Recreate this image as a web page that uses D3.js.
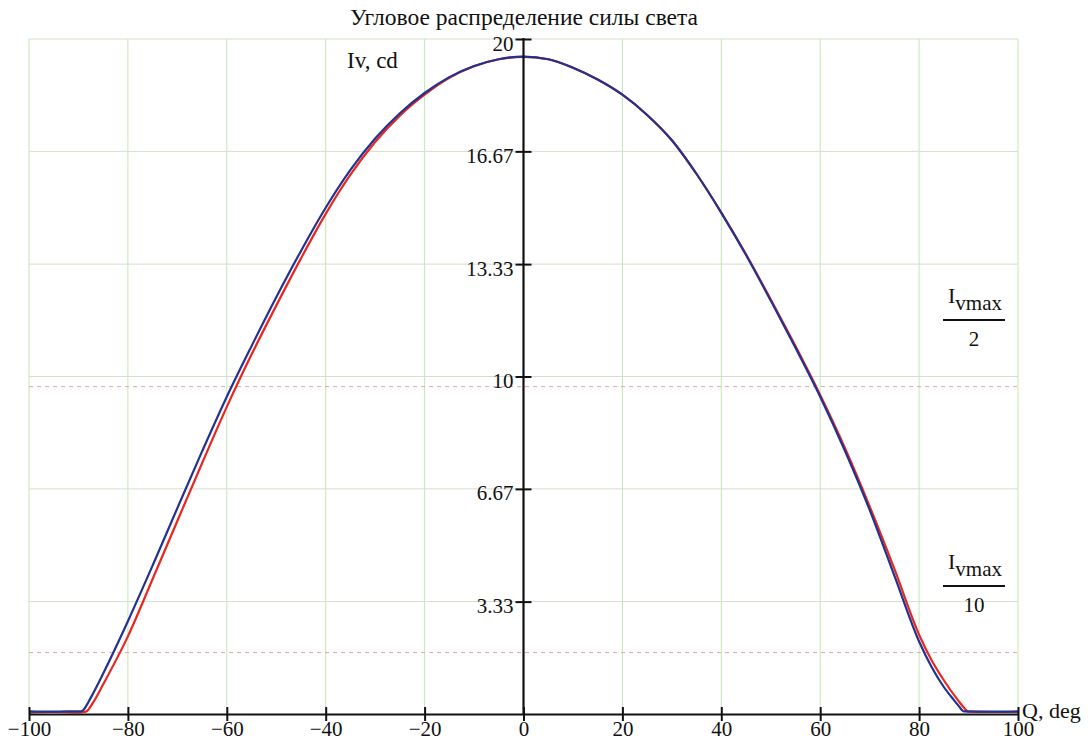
<!DOCTYPE html>
<html>
<head>
<meta charset="utf-8">
<script src="https://cdn.jsdelivr.net/npm/d3@7"></script>
<style>
  body { margin: 0; background: #fff; }
  svg text { font-family: "Liberation Serif", "Times New Roman", serif; fill: #111; }
</style>
</head>
<body>
<div id="chart"></div>
<script>
// angle, deg
var blueAngles = [-100, -95, -90, -89.5, -89, -88, -87, -85, -80, -75, -70, -65, -60, -55, -50, -45, -40, -35, -30, -25, -20, -15, -10, -5, 0,
                  5, 10, 15, 20, 25, 30, 35, 40, 45, 50, 55, 60, 65, 70, 75, 80, 82.5, 85, 87, 88, 89, 95, 100];
var blueValues = [0.08, 0.07, 0.08, 0.08, 0.12, 0.35, 0.62, 1.2, 2.75, 4.4, 6.1, 7.78, 9.4, 10.9, 12.35, 13.72, 15.0, 16.12, 17.05, 17.8, 18.4, 18.87, 19.2, 19.4, 19.48,
                  19.4, 19.15, 18.8, 18.35, 17.75, 17.0, 16.0, 14.85, 13.6, 12.25, 10.85, 9.4, 7.8, 6.05, 4.1, 2.15, 1.4, 0.8, 0.42, 0.24, 0.08, 0.07, 0.08];

var redAngles = [-100, -95, -90, -88.5, -87, -85, -80, -75, -70, -65, -60, -55, -50, -45, -40, -35, -30, -25, -20, -15, -10, -5, 0,
                 5, 10, 15, 20, 25, 30, 35, 40, 45, 50, 55, 60, 65, 70, 75, 80, 82.5, 85, 88, 89, 90, 95, 100];
var redValues = [0.05, 0.06, 0.05, 0.07, 0.35, 0.88, 2.3, 4.0, 5.72, 7.43, 9.1, 10.65, 12.1, 13.5, 14.82, 15.98, 16.95, 17.73, 18.35, 18.85, 19.19, 19.4, 19.47,
                 19.4, 19.15, 18.8, 18.35, 17.75, 17.0, 16.0, 14.86, 13.62, 12.28, 10.9, 9.45, 7.88, 6.15, 4.3, 2.35, 1.6, 1.0, 0.38, 0.2, 0.07, 0.06, 0.06];

var xTicks = [-100, -80, -60, -40, -20, 0, 20, 40, 60, 80, 100];
var yTicks = [3.33, 6.67, 10, 13.33, 16.67, 20];
var yTickLabels = ["3.33", "6.67", "10", "13.33", "16.67", "20"];
var levels = [9.7, 1.82];   // Ivmax/2, Ivmax/10

var W = 1089, H = 743;
var serif = "Liberation Serif, Times New Roman, serif";

var x = d3.scaleLinear().domain([-100, 100]).range([29, 1018]);
var y = d3.scaleLinear().domain([0, 20]).range([714, 39]);

var svg = d3.select("#chart").append("svg")
    .attr("width", W)
    .attr("height", H)
    .attr("font-family", serif);

// grid
svg.append("g").selectAll("line")
    .data(xTicks)
    .enter().append("line")
    .attr("x1", function(d) { return x(d); })
    .attr("x2", function(d) { return x(d); })
    .attr("y1", y(20))
    .attr("y2", y(0))
    .attr("stroke", "#c4e6b4")
    .attr("stroke-width", 1);

svg.append("g").selectAll("line")
    .data(yTicks)
    .enter().append("line")
    .attr("x1", x(-100))
    .attr("x2", x(100))
    .attr("y1", function(d) { return y(d); })
    .attr("y2", function(d) { return y(d); })
    .attr("stroke", "#d6decb")
    .attr("stroke-width", 1);

// dashed levels
svg.append("g").selectAll("line")
    .data(levels)
    .enter().append("line")
    .attr("x1", x(-100))
    .attr("x2", x(100))
    .attr("y1", function(d) { return y(d); })
    .attr("y2", function(d) { return y(d); })
    .attr("stroke", "#dcaaaa")
    .attr("stroke-width", 1)
    .attr("stroke-dasharray", "4,4");

// curves
var line = d3.line()
    .x(function(d) { return x(d[0]); })
    .y(function(d) { return y(d[1]); })
    .curve(d3.curveMonotoneX);

svg.append("path")
    .datum(d3.zip(redAngles, redValues))
    .attr("fill", "none")
    .attr("stroke", "#e8271f")
    .attr("stroke-width", 2.2)
    .attr("d", line);

svg.append("path")
    .datum(d3.zip(blueAngles, blueValues))
    .attr("fill", "none")
    .attr("stroke", "#23318f")
    .attr("stroke-width", 2.2)
    .attr("d", line);

// x axis
var gx = svg.append("g")
    .attr("transform", "translate(0," + y(0) + ")")
    .call(d3.axisBottom(x).tickValues(xTicks).tickSizeOuter(0)
        .tickFormat(function(d) { return d < 0 ? "\u2212" + Math.abs(d) : d; }));
gx.attr("font-family", serif);
gx.select(".domain").attr("stroke", "#111").attr("stroke-width", 2.2);
gx.selectAll(".tick line").attr("y1", -7).attr("y2", 7).attr("stroke", "#111").attr("stroke-width", 2);
gx.selectAll(".tick text")
    .attr("y", 8)
    .attr("dy", "0.66em")
    .attr("font-size", 21)
    .attr("fill", "#111");

// y axis
var gy = svg.append("g")
    .attr("transform", "translate(" + x(0) + ",0)")
    .call(d3.axisLeft(y).tickValues(yTicks).tickSizeOuter(0)
        .tickFormat(function(d, i) { return yTickLabels[i]; }));
gy.attr("font-family", serif);
gy.select(".domain").attr("d", "M0," + (y(20) - 1) + "V" + y(0)).attr("stroke", "#111").attr("stroke-width", 2.2);
gy.selectAll(".tick line").attr("x1", -8).attr("x2", 8).attr("stroke", "#111").attr("stroke-width", 2);
gy.selectAll(".tick text")
    .attr("x", -10)
    .attr("dy", 11)
    .attr("font-size", 21)
    .attr("fill", "#111");

// labels
svg.append("text")
    .attr("x", 524).attr("y", 25)
    .attr("text-anchor", "middle")
    .attr("font-size", 23.5)
    .text("Угловое распределение силы света");

svg.append("text")
    .attr("x", 347).attr("y", 68)
    .attr("font-size", 23)
    .text("Iv, cd");

svg.append("text")
    .attr("x", 1022).attr("y", 718)
    .attr("font-size", 22)
    .text("Q, deg");

// Ivmax fractions
function fraction(cy, denom) {
    var t = svg.append("text").attr("x", 948).attr("y", cy - 17).attr("font-size", 22);
    t.append("tspan").text("I");
    t.append("tspan").attr("dy", 7).attr("font-size", 21).text("vmax");
    svg.append("line")
        .attr("x1", 943).attr("x2", 1005)
        .attr("y1", cy).attr("y2", cy)
        .attr("stroke", "#111").attr("stroke-width", 2);
    svg.append("text")
        .attr("x", 974).attr("y", cy + 26)
        .attr("text-anchor", "middle")
        .attr("font-size", 21)
        .text(denom);
}
fraction(320, "2");
fraction(586, "10");
</script>
</body>
</html>
